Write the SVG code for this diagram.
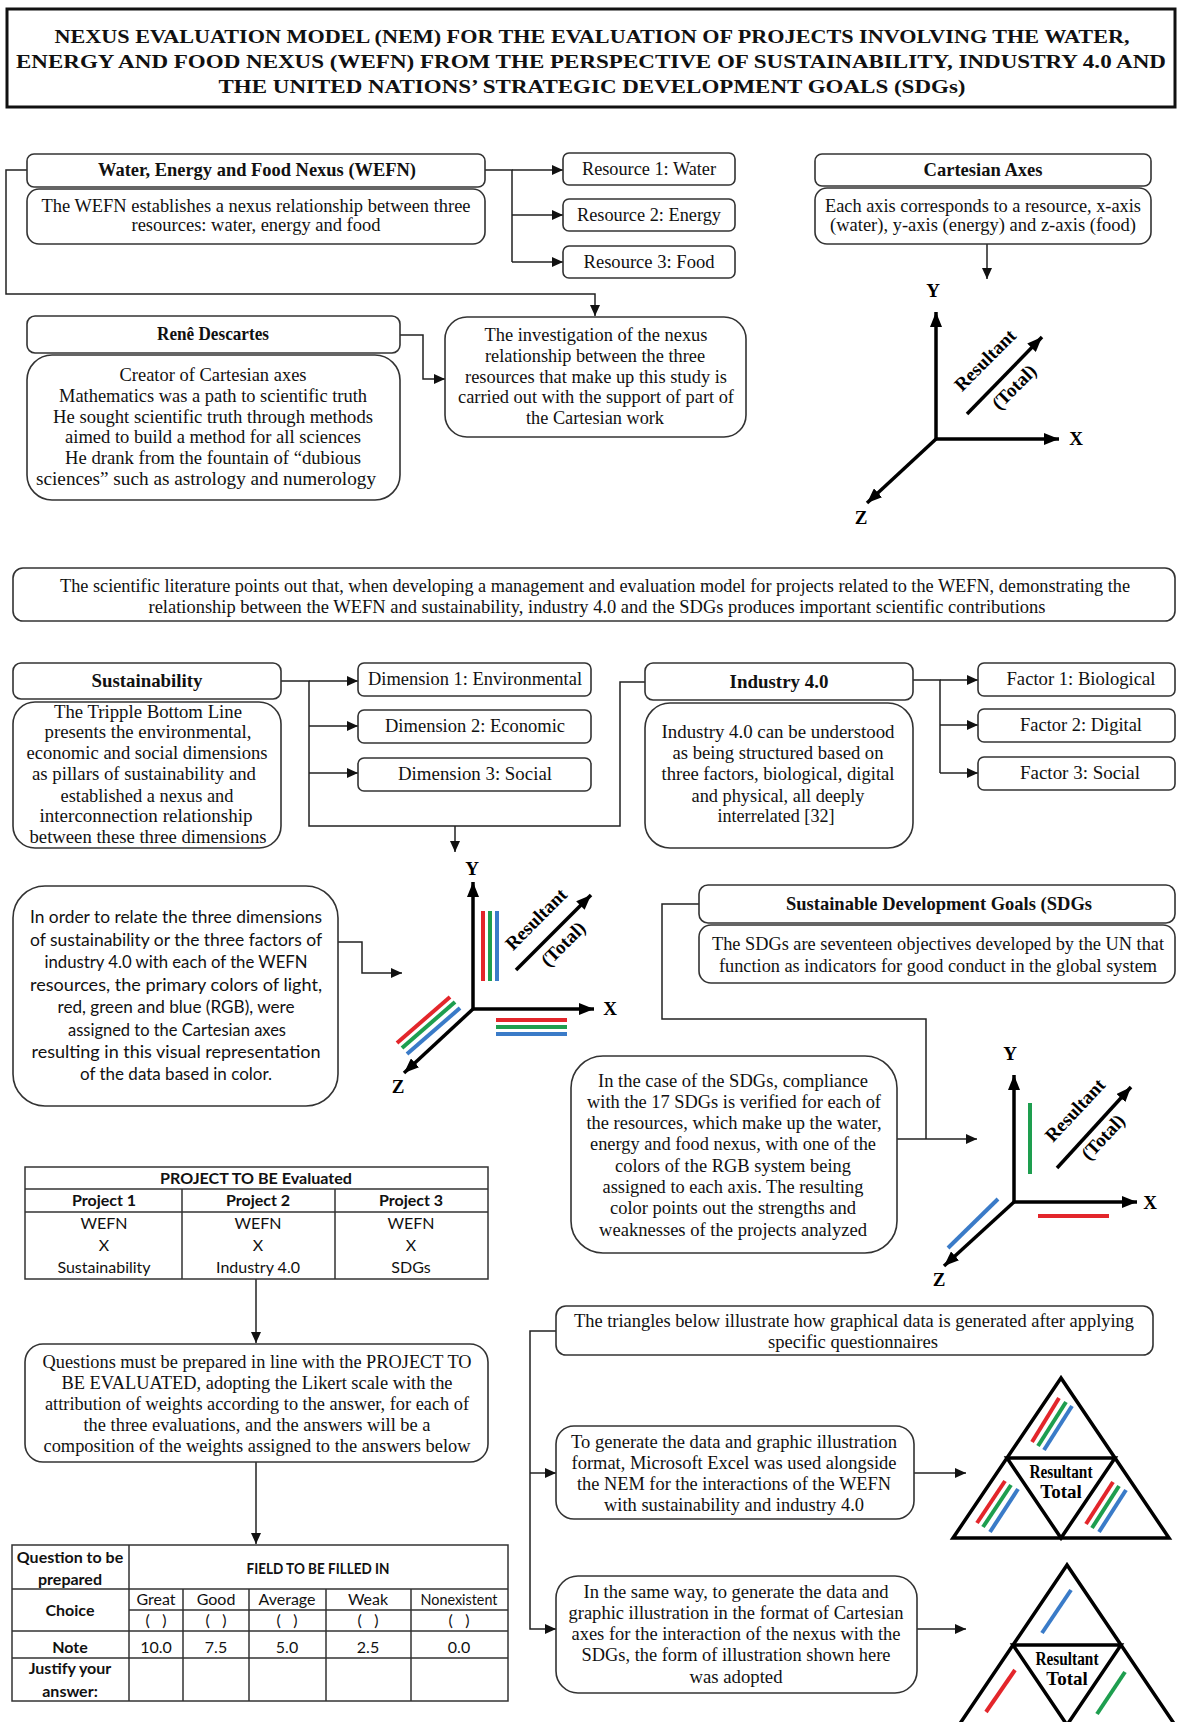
<svg xmlns="http://www.w3.org/2000/svg" width="1178" height="1722" viewBox="0 0 1178 1722">
<defs>
<style>
.box{fill:#fff;stroke:#333;stroke-width:1.6}
.t{font-family:"Liberation Serif",serif;font-size:19px;text-anchor:middle;fill:#111}
.b{font-weight:bold}
.s{font-family:Lato,"Liberation Sans",sans-serif;font-size:17px;text-anchor:middle;fill:#111}
.tb{font-family:Lato,"Liberation Sans",sans-serif;font-size:16px;text-anchor:middle;fill:#111}
.con{fill:none;stroke:#222;stroke-width:1.5}
.ax{fill:none;stroke:#000;stroke-width:3.5}
.tri{fill:#fff;stroke:#000;stroke-width:3.5;stroke-linejoin:miter}
.grid{fill:none;stroke:#333;stroke-width:1.5}
.r{stroke:#e3262b;stroke-width:4}
.g{stroke:#1e9e4f;stroke-width:4}
.bl{stroke:#3a7bc8;stroke-width:4}
.lab{font-family:"Liberation Serif",serif;font-size:19px;font-weight:bold;text-anchor:middle;fill:#000}
</style>
<marker id="ah" markerUnits="userSpaceOnUse" markerWidth="12" markerHeight="10" refX="11" refY="5" orient="auto"><path d="M0,0 L11,5 L0,10 z" fill="#111"/></marker>
<marker id="axh" markerUnits="userSpaceOnUse" markerWidth="16" markerHeight="12" refX="15" refY="6" orient="auto"><path d="M0,0 L15,6 L0,12 z" fill="#000"/></marker>
</defs>
<rect width="1178" height="1722" fill="#fff"/>

<g id="title">
<rect x="7" y="9" width="1168" height="98" fill="#fff" stroke="#111" stroke-width="3"/>
<text class="t b" font-size="22" x="592" y="43" textLength="1075" lengthAdjust="spacingAndGlyphs">NEXUS EVALUATION MODEL (NEM) FOR THE EVALUATION OF PROJECTS INVOLVING THE WATER,</text>
<text class="t b" font-size="22" x="591" y="68" textLength="1150" lengthAdjust="spacingAndGlyphs">ENERGY AND FOOD NEXUS (WEFN) FROM THE PERSPECTIVE OF SUSTAINABILITY, INDUSTRY 4.0 AND</text>
<text class="t b" font-size="22" x="592" y="93" textLength="747" lengthAdjust="spacingAndGlyphs">THE UNITED NATIONS’ STRATEGIC DEVELOPMENT GOALS (SDGs)</text>
</g>

<g id="connectors">
<path class="con" d="M485,170 H512 V262"/>
<path class="con" d="M512,170 H563" marker-end="url(#ah)"/>
<path class="con" d="M512,215 H563" marker-end="url(#ah)"/>
<path class="con" d="M512,262 H563" marker-end="url(#ah)"/>
<path class="con" d="M27,170 H6 V294 H595 V316" marker-end="url(#ah)"/>
<path class="con" d="M987,244 V279" marker-end="url(#ah)"/>
<path class="con" d="M400,335 H423 V379 H445" marker-end="url(#ah)"/>
<path class="con" d="M281,681 H309 V826 H620 V682 H645"/>
<path class="con" d="M309,681 H358" marker-end="url(#ah)"/>
<path class="con" d="M309,726 H358" marker-end="url(#ah)"/>
<path class="con" d="M309,773 H358" marker-end="url(#ah)"/>
<path class="con" d="M455,826 V852" marker-end="url(#ah)"/>
<path class="con" d="M913,680 H940 V773"/>
<path class="con" d="M940,680 H978" marker-end="url(#ah)"/>
<path class="con" d="M940,725 H978" marker-end="url(#ah)"/>
<path class="con" d="M940,773 H978" marker-end="url(#ah)"/>
<path class="con" d="M338,942 H362 V973 H402" marker-end="url(#ah)"/>
<path class="con" d="M699,904 H662 V1019 H926 V1139"/>
<path class="con" d="M897,1139 H977" marker-end="url(#ah)"/>
<path class="con" d="M256,1279 V1343" marker-end="url(#ah)"/>
<path class="con" d="M256,1462 V1544" marker-end="url(#ah)"/>
<path class="con" d="M556,1331 H530 V1629 H556" marker-end="url(#ah)"/>
<path class="con" d="M530,1473 H556" marker-end="url(#ah)"/>
<path class="con" d="M914,1473 H966" marker-end="url(#ah)"/>
<path class="con" d="M917,1629 H966" marker-end="url(#ah)"/>
</g>

<g id="wefn">
<rect class="box" x="27" y="154" width="458" height="33" rx="7"/>
<text class="t b" font-size="18" x="257" y="176" textLength="318" lengthAdjust="spacingAndGlyphs">Water, Energy and Food Nexus (WEFN)</text>
<rect class="box" x="27" y="189" width="458" height="55" rx="12"/>
<text class="t" x="256" y="212" textLength="429" lengthAdjust="spacingAndGlyphs">The WEFN establishes a nexus relationship between three</text>
<text class="t" x="256" y="231" textLength="249" lengthAdjust="spacingAndGlyphs">resources: water, energy and food</text>
</g>

<g id="resource1"><rect class="box" x="563" y="153" width="172" height="32" rx="6"/><text class="t" x="649" y="175" textLength="134" lengthAdjust="spacingAndGlyphs">Resource 1: Water</text></g>
<g id="resource2"><rect class="box" x="563" y="199" width="172" height="32" rx="6"/><text class="t" x="649" y="221" textLength="144" lengthAdjust="spacingAndGlyphs">Resource 2: Energy</text></g>
<g id="resource3"><rect class="box" x="563" y="246" width="172" height="32" rx="6"/><text class="t" x="649" y="268" textLength="131" lengthAdjust="spacingAndGlyphs">Resource 3: Food</text></g>

<g id="cartesian">
<rect class="box" x="815" y="154" width="336" height="32" rx="7"/>
<text class="t b" font-size="18" x="983" y="176" textLength="119" lengthAdjust="spacingAndGlyphs">Cartesian Axes</text>
<rect class="box" x="815" y="188" width="336" height="56" rx="12"/>
<text class="t" x="983" y="212" textLength="316" lengthAdjust="spacingAndGlyphs">Each axis corresponds to a resource, x-axis</text>
<text class="t" x="983" y="231" textLength="306" lengthAdjust="spacingAndGlyphs">(water), y-axis (energy) and z-axis (food)</text>
</g>

<g id="axes1">
<path class="ax" d="M936,439 V312" marker-end="url(#axh)"/>
<path class="ax" d="M936,439 H1059" marker-end="url(#axh)"/>
<path class="ax" d="M936,439 L867,503" marker-end="url(#axh)"/>
<path class="ax" d="M967,414 L1042,337" marker-end="url(#axh)"/>
<text class="lab" x="933" y="297">Y</text>
<text class="lab" x="1076" y="445">X</text>
<text class="lab" x="861" y="524">Z</text>
<text class="lab" font-size="18" transform="translate(986,361) rotate(-45)" y="5">Resultant</text>
<text class="lab" font-size="18" transform="translate(1015,388) rotate(-45)" y="5">(Total)</text>
</g>

<g id="descartes">
<rect class="box" x="27" y="316" width="373" height="37" rx="8"/>
<text class="t b" font-size="18" x="213" y="340" textLength="112" lengthAdjust="spacingAndGlyphs">Renê Descartes</text>
<rect class="box" x="27" y="355" width="373" height="145" rx="25"/>
<text class="t" x="213" y="381" textLength="187" lengthAdjust="spacingAndGlyphs">Creator of Cartesian axes</text>
<text class="t" x="213" y="402" textLength="308" lengthAdjust="spacingAndGlyphs">Mathematics was a path to scientific truth</text>
<text class="t" x="213" y="423" textLength="320" lengthAdjust="spacingAndGlyphs">He sought scientific truth through methods</text>
<text class="t" x="213" y="443" textLength="296" lengthAdjust="spacingAndGlyphs">aimed to build a method for all sciences</text>
<text class="t" x="213" y="464" textLength="296" lengthAdjust="spacingAndGlyphs">He drank from the fountain of “dubious</text>
<text class="t" x="206" y="485" textLength="340" lengthAdjust="spacingAndGlyphs">sciences” such as astrology and numerology</text>
</g>

<g id="investigation">
<rect class="box" x="445" y="317" width="301" height="120" rx="22"/>
<text class="t" x="596" y="341" textLength="223" lengthAdjust="spacingAndGlyphs">The investigation of the nexus</text>
<text class="t" x="595" y="362" textLength="220" lengthAdjust="spacingAndGlyphs">relationship between the three</text>
<text class="t" x="596" y="383" textLength="262" lengthAdjust="spacingAndGlyphs">resources that make up this study is</text>
<text class="t" x="596" y="403" textLength="276" lengthAdjust="spacingAndGlyphs">carried out with the support of part of</text>
<text class="t" x="595" y="424" textLength="138" lengthAdjust="spacingAndGlyphs">the Cartesian work</text>
</g>

<g id="literature">
<rect class="box" x="13" y="568" width="1162" height="53" rx="10"/>
<text class="t" x="595" y="592" textLength="1070" lengthAdjust="spacingAndGlyphs">The scientific  literature points out that, when developing a management and evaluation model for projects related to the WEFN, demonstrating the</text>
<text class="t" x="597" y="613" textLength="897" lengthAdjust="spacingAndGlyphs">relationship between the WEFN and sustainability, industry 4.0 and the SDGs produces important scientific contributions</text>
</g>

<g id="sustainability">
<rect class="box" x="13" y="663" width="268" height="36" rx="8"/>
<text class="t b" font-size="18" x="147" y="687" textLength="111" lengthAdjust="spacingAndGlyphs">Sustainability</text>
<rect class="box" x="13" y="702" width="268" height="146" rx="22"/>
<text class="t" x="148" y="718" textLength="188" lengthAdjust="spacingAndGlyphs">The Tripple Bottom Line</text>
<text class="t" x="148" y="738" textLength="207" lengthAdjust="spacingAndGlyphs">presents the environmental,</text>
<text class="t" x="147" y="759" textLength="241" lengthAdjust="spacingAndGlyphs">economic and social dimensions</text>
<text class="t" x="144" y="780" textLength="224" lengthAdjust="spacingAndGlyphs">as pillars of sustainability and</text>
<text class="t" x="147" y="802" textLength="173" lengthAdjust="spacingAndGlyphs">established a nexus and</text>
<text class="t" x="146" y="822" textLength="213" lengthAdjust="spacingAndGlyphs">interconnection relationship</text>
<text class="t" x="148" y="843" textLength="237" lengthAdjust="spacingAndGlyphs">between these three dimensions</text>
</g>

<g id="dimension1"><rect class="box" x="358" y="663" width="233" height="33" rx="6"/><text class="t" x="475" y="685" textLength="214" lengthAdjust="spacingAndGlyphs">Dimension 1: Environmental</text></g>
<g id="dimension2"><rect class="box" x="358" y="710" width="233" height="33" rx="6"/><text class="t" x="475" y="732" textLength="180" lengthAdjust="spacingAndGlyphs">Dimension 2: Economic</text></g>
<g id="dimension3"><rect class="box" x="358" y="758" width="233" height="33" rx="6"/><text class="t" x="475" y="780" textLength="154" lengthAdjust="spacingAndGlyphs">Dimension 3: Social</text></g>

<g id="industry">
<rect class="box" x="645" y="663" width="268" height="37" rx="8"/>
<text class="t b" font-size="18" x="779" y="688" textLength="99" lengthAdjust="spacingAndGlyphs">Industry 4.0</text>
<rect class="box" x="645" y="703" width="268" height="145" rx="25"/>
<text class="t" x="778" y="738" textLength="233" lengthAdjust="spacingAndGlyphs">Industry 4.0 can be understood</text>
<text class="t" x="778" y="759" textLength="211" lengthAdjust="spacingAndGlyphs">as being structured based on</text>
<text class="t" x="778" y="780" textLength="233" lengthAdjust="spacingAndGlyphs">three factors, biological, digital</text>
<text class="t" x="778" y="802" textLength="173" lengthAdjust="spacingAndGlyphs">and physical, all deeply</text>
<text class="t" x="776" y="822" textLength="117" lengthAdjust="spacingAndGlyphs">interrelated [32]</text>
</g>

<g id="factor1"><rect class="box" x="978" y="663" width="197" height="33" rx="6"/><text class="t" x="1081" y="685" textLength="149" lengthAdjust="spacingAndGlyphs">Factor 1: Biological</text></g>
<g id="factor2"><rect class="box" x="978" y="709" width="197" height="33" rx="6"/><text class="t" x="1081" y="731" textLength="122" lengthAdjust="spacingAndGlyphs">Factor 2: Digital</text></g>
<g id="factor3"><rect class="box" x="978" y="757" width="197" height="33" rx="6"/><text class="t" x="1080" y="779" textLength="120" lengthAdjust="spacingAndGlyphs">Factor 3: Social</text></g>

<g id="rgb-text">
<rect class="box" x="13" y="886" width="325" height="220" rx="32"/>
<text class="s" x="176" y="923" textLength="292" lengthAdjust="spacingAndGlyphs">In order to relate the three dimensions</text>
<text class="s" x="176" y="946" textLength="292" lengthAdjust="spacingAndGlyphs">of sustainability or the three factors of</text>
<text class="s" x="176" y="968" textLength="263" lengthAdjust="spacingAndGlyphs">industry 4.0 with each of the WEFN</text>
<text class="s" x="176" y="991" textLength="292" lengthAdjust="spacingAndGlyphs">resources, the primary colors of light,</text>
<text class="s" x="176" y="1013" textLength="237" lengthAdjust="spacingAndGlyphs">red, green and blue (RGB), were</text>
<text class="s" x="177" y="1036" textLength="218" lengthAdjust="spacingAndGlyphs">assigned to the Cartesian axes</text>
<text class="s" x="176" y="1058" textLength="289" lengthAdjust="spacingAndGlyphs">resulting in this visual representation</text>
<text class="s" x="176" y="1080" textLength="192" lengthAdjust="spacingAndGlyphs">of the data based in color.</text>
</g>

<g id="axes2">
<line class="r" x1="483" y1="911" x2="483" y2="981"/>
<line class="g" x1="490" y1="911" x2="490" y2="981"/>
<line class="bl" x1="497" y1="911" x2="497" y2="981"/>
<line class="r" x1="496" y1="1020" x2="567" y2="1020"/>
<line class="g" x1="496" y1="1027" x2="567" y2="1027"/>
<line class="bl" x1="496" y1="1034" x2="567" y2="1034"/>
<line class="r" x1="397" y1="1043" x2="450" y2="997"/>
<line class="g" x1="402" y1="1048" x2="455" y2="1002"/>
<line class="bl" x1="407" y1="1054" x2="460" y2="1008"/>
<path class="ax" d="M473,1009 V882" marker-end="url(#axh)"/>
<path class="ax" d="M473,1009 H594" marker-end="url(#axh)"/>
<path class="ax" d="M473,1009 L404,1073" marker-end="url(#axh)"/>
<path class="ax" d="M516,970 L591,895" marker-end="url(#axh)"/>
<text class="lab" x="472" y="875">Y</text>
<text class="lab" x="610" y="1015">X</text>
<text class="lab" x="398" y="1093">Z</text>
<text class="lab" font-size="18" transform="translate(537,920) rotate(-45)" y="5">Resultant</text>
<text class="lab" font-size="18" transform="translate(564,945) rotate(-45)" y="5">(Total)</text>
</g>

<g id="sdgs">
<rect class="box" x="699" y="885" width="476" height="38" rx="9"/>
<text class="t b" font-size="18" x="939" y="910" textLength="306" lengthAdjust="spacingAndGlyphs">Sustainable Development Goals (SDGs</text>
<rect class="box" x="699" y="925" width="476" height="58" rx="12"/>
<text class="t" x="938" y="950" textLength="452" lengthAdjust="spacingAndGlyphs">The SDGs are seventeen objectives developed by the UN that</text>
<text class="t" x="938" y="972" textLength="438" lengthAdjust="spacingAndGlyphs">function as indicators for good conduct in the global system</text>
</g>

<g id="sdg-case">
<rect class="box" x="571" y="1056" width="326" height="197" rx="32"/>
<text class="t" x="733" y="1087" textLength="270" lengthAdjust="spacingAndGlyphs">In the case of the SDGs, compliance</text>
<text class="t" x="734" y="1108" textLength="294" lengthAdjust="spacingAndGlyphs">with the 17 SDGs is verified  for each of</text>
<text class="t" x="734" y="1129" textLength="295" lengthAdjust="spacingAndGlyphs">the resources, which make up the water,</text>
<text class="t" x="733" y="1150" textLength="286" lengthAdjust="spacingAndGlyphs">energy and food nexus, with one of the</text>
<text class="t" x="733" y="1172" textLength="236" lengthAdjust="spacingAndGlyphs">colors of the RGB system being</text>
<text class="t" x="733" y="1193" textLength="261" lengthAdjust="spacingAndGlyphs">assigned to each axis. The resulting</text>
<text class="t" x="733" y="1214" textLength="246" lengthAdjust="spacingAndGlyphs">color points out the strengths and</text>
<text class="t" x="733" y="1236" textLength="268" lengthAdjust="spacingAndGlyphs">weaknesses of the projects analyzed</text>
</g>

<g id="axes3">
<line class="g" x1="1030" y1="1103" x2="1030" y2="1174"/>
<line class="r" x1="1038" y1="1216" x2="1109" y2="1216"/>
<line class="bl" x1="948" y1="1248" x2="998" y2="1199"/>
<path class="ax" d="M1014,1202 V1075" marker-end="url(#axh)"/>
<path class="ax" d="M1014,1202 H1137" marker-end="url(#axh)"/>
<path class="ax" d="M1014,1202 L944,1266" marker-end="url(#axh)"/>
<path class="ax" d="M1057,1168 L1131,1087" marker-end="url(#axh)"/>
<text class="lab" x="1010" y="1060">Y</text>
<text class="lab" x="1150" y="1209">X</text>
<text class="lab" x="939" y="1286">Z</text>
<text class="lab" font-size="18" transform="translate(1076,1111) rotate(-47)" y="5">Resultant</text>
<text class="lab" font-size="18" transform="translate(1104,1138) rotate(-47)" y="5">(Total)</text>
</g>

<g id="project-table">
<rect class="grid" x="25" y="1167" width="463" height="112"/>
<path class="grid" d="M25,1189 H488 M25,1212 H488 M182,1189 V1279 M335,1189 V1279"/>
<text class="tb b" x="256" y="1184" textLength="192" lengthAdjust="spacingAndGlyphs">PROJECT TO BE Evaluated</text>
<text class="tb b" x="104" y="1206">Project 1</text>
<text class="tb b" x="258" y="1206">Project 2</text>
<text class="tb b" x="411" y="1206">Project 3</text>
<text class="tb" x="104" y="1229">WEFN</text>
<text class="tb" x="104" y="1251">X</text>
<text class="tb" x="104" y="1273">Sustainability</text>
<text class="tb" x="258" y="1229">WEFN</text>
<text class="tb" x="258" y="1251">X</text>
<text class="tb" x="258" y="1273">Industry 4.0</text>
<text class="tb" x="411" y="1229">WEFN</text>
<text class="tb" x="411" y="1251">X</text>
<text class="tb" x="411" y="1273">SDGs</text>
</g>

<g id="questions">
<rect class="box" x="25" y="1344" width="463" height="118" rx="18"/>
<text class="t" x="257" y="1368" textLength="429" lengthAdjust="spacingAndGlyphs">Questions must be prepared in line with the PROJECT TO</text>
<text class="t" x="257" y="1389" textLength="391" lengthAdjust="spacingAndGlyphs">BE EVALUATED, adopting the Likert scale with the</text>
<text class="t" x="257" y="1410" textLength="424" lengthAdjust="spacingAndGlyphs">attribution of weights according to the answer, for each of</text>
<text class="t" x="257" y="1431" textLength="347" lengthAdjust="spacingAndGlyphs">the three evaluations, and the answers will be a</text>
<text class="t" x="257" y="1452" textLength="427" lengthAdjust="spacingAndGlyphs">composition of the weights assigned to the answers below</text>
</g>

<g id="answer-table">
<rect class="grid" x="12" y="1545" width="496" height="156"/>
<path class="grid" d="M129,1545 V1701 M183,1589 V1701 M249,1589 V1701 M326,1589 V1701 M411,1589 V1701 M12,1589 H508 M129,1610 H508 M12,1631 H508 M12,1658 H508"/>
<text class="tb b" x="70" y="1563">Question to be</text>
<text class="tb b" x="70" y="1585">prepared</text>
<text class="tb b" x="318" y="1574" textLength="143" lengthAdjust="spacingAndGlyphs">FIELD TO BE FILLED IN</text>
<text class="tb b" x="70" y="1616">Choice</text>
<text class="tb" x="156" y="1605">Great</text>
<text class="tb" x="216" y="1605">Good</text>
<text class="tb" x="287" y="1605">Average</text>
<text class="tb" x="368" y="1605">Weak</text>
<text class="tb" x="459" y="1605" textLength="77" lengthAdjust="spacingAndGlyphs">Nonexistent</text>
<text class="tb" x="156" y="1626">(&#160;&#160;&#160;)</text>
<text class="tb" x="216" y="1626">(&#160;&#160;&#160;)</text>
<text class="tb" x="287" y="1626">(&#160;&#160;&#160;)</text>
<text class="tb" x="368" y="1626">(&#160;&#160;&#160;)</text>
<text class="tb" x="459" y="1626">(&#160;&#160;&#160;)</text>
<text class="tb b" x="70" y="1653">Note</text>
<text class="tb" x="156" y="1653">10.0</text>
<text class="tb" x="216" y="1653">7.5</text>
<text class="tb" x="287" y="1653">5.0</text>
<text class="tb" x="368" y="1653">2.5</text>
<text class="tb" x="459" y="1653">0.0</text>
<text class="tb b" x="70" y="1674">Justify your</text>
<text class="tb b" x="70" y="1697">answer:</text>
</g>

<g id="triangles-text">
<rect class="box" x="556" y="1306" width="597" height="49" rx="10"/>
<text class="t" x="854" y="1327" textLength="560" lengthAdjust="spacingAndGlyphs">The triangles below illustrate how graphical data is generated after applying</text>
<text class="t" x="853" y="1348" textLength="170" lengthAdjust="spacingAndGlyphs">specific questionnaires</text>
</g>

<g id="excel-text">
<rect class="box" x="556" y="1426" width="358" height="93" rx="18"/>
<text class="t" x="734" y="1448" textLength="326" lengthAdjust="spacingAndGlyphs">To generate the data and graphic illustration</text>
<text class="t" x="734" y="1469" textLength="325" lengthAdjust="spacingAndGlyphs">format, Microsoft Excel was used alongside</text>
<text class="t" x="734" y="1490" textLength="314" lengthAdjust="spacingAndGlyphs">the NEM for the interactions of the WEFN</text>
<text class="t" x="734" y="1511" textLength="260" lengthAdjust="spacingAndGlyphs">with sustainability and industry 4.0</text>
</g>

<g id="same-way-text">
<rect class="box" x="556" y="1576" width="361" height="117" rx="22"/>
<text class="t" x="736" y="1598" textLength="305" lengthAdjust="spacingAndGlyphs">In the same way, to generate the data and</text>
<text class="t" x="736" y="1619" textLength="335" lengthAdjust="spacingAndGlyphs">graphic illustration in the format of Cartesian</text>
<text class="t" x="736" y="1640" textLength="329" lengthAdjust="spacingAndGlyphs">axes for the interaction of the nexus with the</text>
<text class="t" x="736" y="1661" textLength="309" lengthAdjust="spacingAndGlyphs">SDGs, the form of illustration shown here</text>
<text class="t" x="736" y="1683" textLength="93" lengthAdjust="spacingAndGlyphs">was adopted</text>
</g>

<g id="triangle1">
<polygon class="tri" points="1061,1378 953,1538 1169,1538"/>
<polygon class="tri" points="1007,1458 1115,1458 1061,1538"/>
<line class="r" x1="1032" y1="1442" x2="1059" y2="1398"/>
<line class="g" x1="1038" y1="1446" x2="1066" y2="1402"/>
<line class="bl" x1="1044" y1="1450" x2="1072" y2="1406"/>
<line class="r" x1="977" y1="1523" x2="1005" y2="1481"/>
<line class="g" x1="983" y1="1527" x2="1011" y2="1485"/>
<line class="bl" x1="990" y1="1532" x2="1018" y2="1489"/>
<line class="r" x1="1086" y1="1524" x2="1113" y2="1482"/>
<line class="g" x1="1092" y1="1528" x2="1119" y2="1486"/>
<line class="bl" x1="1099" y1="1532" x2="1126" y2="1490"/>
<text class="lab" font-size="15" x="1061" y="1478" textLength="63" lengthAdjust="spacingAndGlyphs">Resultant</text>
<text class="lab" font-size="15" x="1061" y="1498">Total</text>
</g>

<g id="triangle2">
<polygon class="tri" points="1067,1565 959,1725 1175,1725"/>
<polygon class="tri" points="1013,1645 1121,1645 1067,1725"/>
<line class="bl" x1="1042" y1="1633" x2="1071" y2="1590"/>
<line class="r" x1="986" y1="1712" x2="1015" y2="1670"/>
<line class="g" x1="1097" y1="1714" x2="1125" y2="1672"/>
<text class="lab" font-size="15" x="1067" y="1665" textLength="63" lengthAdjust="spacingAndGlyphs">Resultant</text>
<text class="lab" font-size="15" x="1067" y="1685">Total</text>
</g>
</svg>
